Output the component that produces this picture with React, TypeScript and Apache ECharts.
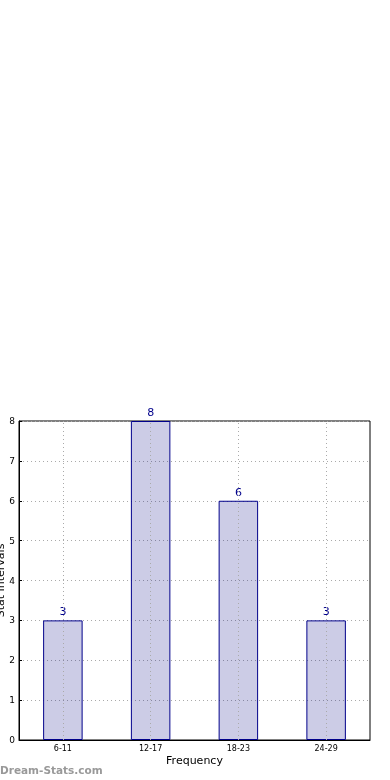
import React, { useEffect, useRef } from "react";
import * as echarts from "echarts";

const categories = ["6-11", "12-17", "18-23", "24-29"];
const values = [3, 8, 6, 3];
const yTicks = { min: 0, max: 8, interval: 1 };

export default function App() {
  const ref = useRef<HTMLDivElement>(null);
  useEffect(() => {
    if (!ref.current) return;
    const chart = echarts.init(ref.current, undefined, { renderer: "svg" });
    const font = "DejaVu Sans";
    chart.setOption({
      animation: false,
      textStyle: { fontFamily: font },
      grid: {
        left: 19,
        right: 20,
        top: 421,
        bottom: 40,
        containLabel: false,
        outerBoundsMode: "none",
        show: true,
        borderColor: "#000",
        borderWidth: 1,
        backgroundColor: "transparent",
      },
      xAxis: {
        type: "category",
        data: categories,
        name: "Frequency",
        nameLocation: "middle",
        nameGap: 15,
        nameMoveOverlap: false,
        nameTextStyle: { fontSize: 11, color: "#000", fontFamily: font },
        axisLine: { show: true, lineStyle: { color: "#000", width: 1 } },
        axisTick: { show: false },
        axisLabel: { fontSize: 8, color: "#000", margin: 4, fontFamily: font },
        splitLine: { show: false },
      },
      yAxis: {
        type: "value",
        min: yTicks.min,
        max: yTicks.max,
        interval: yTicks.interval,
        name: "Stat Intervals",
        nameLocation: "middle",
        nameGap: 13,
        nameMoveOverlap: false,
        nameTextStyle: { fontSize: 11, color: "#000", fontFamily: font },
        axisLine: { show: true, lineStyle: { color: "#000", width: 1 } },
        axisTick: { show: true, inside: true, length: 3, lineStyle: { color: "#000" } },
        axisLabel: { fontSize: 9, color: "#000", margin: 4, fontFamily: font },
        splitLine: { show: true, lineStyle: { color: "#aaa", type: [1, 3], width: 1 } },
      },
      series: [
        {
          type: "bar",
          data: values,
          barWidth: "45%",
          itemStyle: {
            color: "rgba(0,0,128,0.2)",
            borderColor: "#00008B",
            borderWidth: 1,
          },
          label: {
            show: true,
            position: "top",
            distance: 3,
            fontSize: 11,
            color: "#00008B",
            fontFamily: font,
          },
          markLine: {
            silent: true,
            symbol: "none",
            label: { show: false },
            lineStyle: { color: "#aaa", type: [1, 3], width: 1 },
            data: categories.map((c) => ({ xAxis: c })),
          },
        },
      ],
      graphic: [
        {
          type: "text",
          left: 0,
          top: 764,
          style: {
            text: "Dream-Stats.com",
            fill: "#999",
            font: "bold 10.5px 'DejaVu Sans'",
          },
        },
      ],
    });
    return () => chart.dispose();
  }, []);
  return (
    <div
      ref={ref}
      style={{ position: "fixed", left: 0, top: 0, width: 390, height: 780 }}
    />
  );
}
